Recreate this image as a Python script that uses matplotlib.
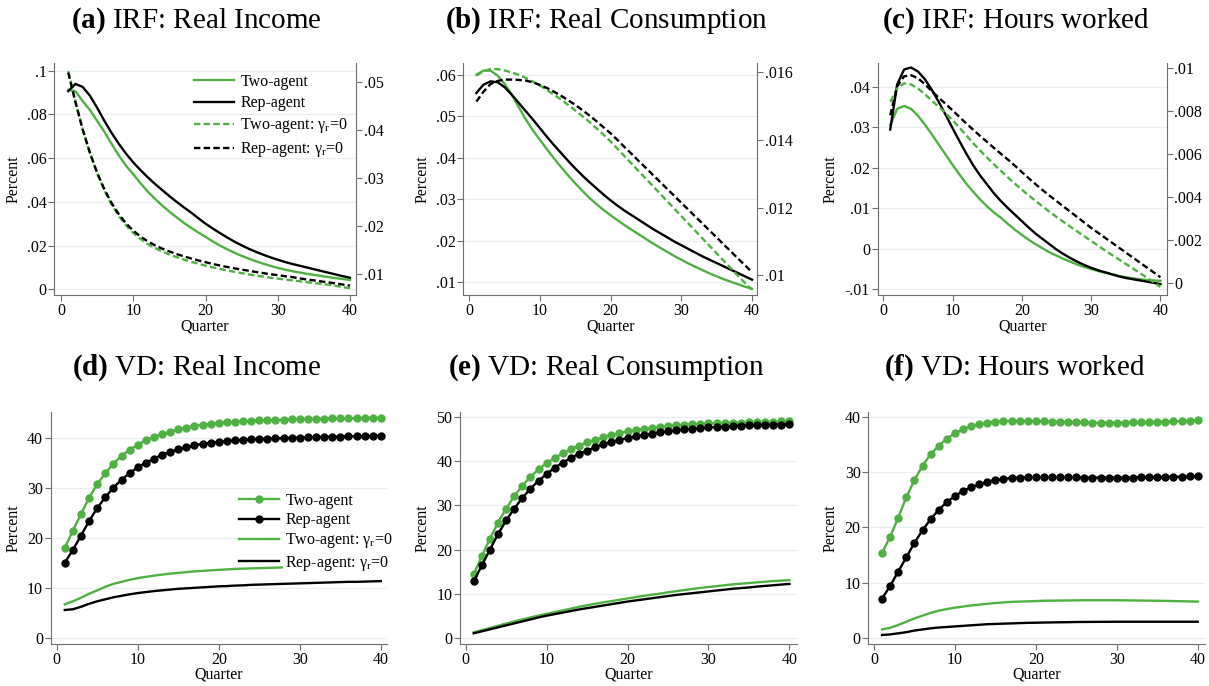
import matplotlib
matplotlib.use("Agg")
import matplotlib.pyplot as plt
from matplotlib.lines import Line2D

plt.rcParams["font.family"] = ["Liberation Serif", "DejaVu Serif"]
plt.rcParams["mathtext.fontset"] = "custom"
plt.rcParams["mathtext.rm"] = "Liberation Serif"
plt.rcParams["mathtext.it"] = "Liberation Serif:italic"
plt.rcParams["mathtext.bf"] = "Liberation Serif:bold"

GREEN = "#50b043"
SPINE = "#6e6e6e"
GRID = "#e8eff0"
DASH = (0, (2.7, 1.4))

quarters = list(range(1, 41))
labels = ["Two-agent", "Rep-agent", "Two-agent: γ$_\\mathrm{r}$=0", "Rep-agent: γ$_\\mathrm{r}$=0"]

# (a) IRF real income: solid on left axis, gamma_r=0 (dashed) on right axis
a_two = [.0912, .0905, .0860, .0820, .0770, .0720, .0665, .0612, .0565, .0526, .0485, .0447, .0414, .0383,
         .0355, .0329, .0304, .0281, .0260, .0240, .0219, .0200, .0183, .0167, .0153, .0140, .0128, .0117,
         .0107, .0098, .0090, .0083, .0077, .0071, .0066, .0061, .0056, .0051, .0047, .0043]
a_rep = [.0906, .0939, .0925, .0885, .0830, .0770, .0715, .0665, .0620, .0580, .0545, .0512, .0482, .0454,
         .0426, .0400, .0375, .0351, .0325, .0300, .0278, .0257, .0237, .0218, .0201, .0185, .0171, .0158,
         .0146, .0135, .0125, .0116, .0108, .0100, .0092, .0084, .0076, .0068, .0060, .0053]
a_two0 = [.05224, .04591, .04008, .03516, .03097, .02742, .02450, .02209, .02013, .01858, .01731, .01626,
          .01544, .01471, .01407, .01353, .01302, .01257, .01216, .01175, .01139, .01107, .01075, .01047,
          .01020, .00993, .00970, .00947, .00924, .00906, .00888, .00870, .00852, .00833, .00815, .00797,
          .00779, .00756, .00729, .00706]
a_rep0 = [.05192, .04578, .04008, .03525, .03111, .02765, .02478, .02245, .02054, .01904, .01781, .01681,
          .01599, .01530, .01471, .01416, .01371, .01325, .01284, .01248, .01211, .01179, .01148, .01120,
          .01093, .01070, .01043, .01020, .00997, .00979, .00956, .00938, .00911, .00888, .00870, .00847,
          .00829, .00806, .00783, .00760]

# (b) IRF real consumption
b_two = [.0600, .0610, .0610, .0598, .0578, .0552, .0522, .0492, .0466, .0443, .0420, .0398, .0377, .0357,
         .0338, .0320, .0303, .0288, .0274, .0261, .0249, .0237, .0226, .0215, .0204, .0193, .0183, .0173,
         .0163, .0154, .0145, .0137, .0129, .0121, .0114, .0107, .0101, .0095, .0089, .0084]
b_rep = [.0556, .0576, .0584, .0582, .0570, .0552, .0532, .0512, .0492, .0471, .0450, .0430, .0411, .0392,
         .0374, .0357, .0341, .0326, .0311, .0297, .0284, .0272, .0261, .0250, .0239, .0228, .0218, .0208,
         .0198, .0189, .0180, .0171, .0162, .0154, .0146, .0138, .0130, .0122, .0114, .0106]
b_two0 = [.01590, .01603, .01609, .01609, .01605, .01599, .01592, .01583, .01572, .01560, .01547, .01533,
          .01519, .01503, .01487, .01470, .01453, .01434, .01415, .01395, .01373, .01351, .01329, .01307,
          .01285, .01263, .01241, .01219, .01197, .01175, .01153, .01131, .01109, .01087, .01065, .01043,
          .01021, .00999, .00978, .00958]
b_rep0 = [.01513, .01542, .01565, .01574, .01578, .01578, .01577, .01575, .01570, .01562, .01553, .01542,
          .01530, .01517, .01503, .01488, .01472, .01455, .01437, .01419, .01399, .01378, .01358, .01337,
          .01317, .01296, .01276, .01255, .01235, .01214, .01194, .01173, .01153, .01132, .01112, .01091,
          .01071, .01050, .01030, .01009]

# (c) IRF hours worked
c_two = [.0305, .0345, .0352, .0345, .0328, .0306, .0282, .0257, .0232, .0207, .0183, .0160, .0140, .0121,
         .0104, .0089, .0076, .0061, .0047, .0034, .0022, .0011, .0001, -.0009, -.0017, -.0025, -.0032,
         -.0039, -.0045, -.0050, -.0055, -.0059, -.0063, -.0067, -.0070, -.0073, -.0075, -.0077, -.0078, -.0079]
c_rep = [.0294, .0405, .0442, .0447, .0437, .0418, .0392, .0362, .0330, .0297, .0265, .0234, .0205, .0180,
         .0158, .0136, .0117, .0100, .0084, .0068, .0052, .0037, .0024, .0011, -.0002, -.0013, -.0023,
         -.0032, -.0040, -.0047, -.0053, -.0058, -.0063, -.0068, -.0072, -.0075, -.0078, -.0081, -.0084, -.0087]
c_two0 = [.00843, .00905, .00929, .00924, .00905, .00878, .00848, .00820, .00790, .00757, .00722, .00686,
          .00649, .00615, .00582, .00550, .00520, .00490, .00461, .00433, .00406, .00380, .00355, .00330,
          .00306, .00283, .00260, .00238, .00216, .00194, .00172, .00150, .00129, .00108, .00087, .00066,
          .00045, .00024, .00002, -.00020]
c_rep0 = [.00780, .00915, .00962, .00967, .00953, .00925, .00893, .00862, .00833, .00803, .00772, .00741,
          .00712, .00683, .00655, .00627, .00600, .00573, .00545, .00515, .00486, .00458, .00431, .00405,
          .00380, .00355, .00330, .00305, .00280, .00255, .00232, .00209, .00186, .00163, .00140, .00117,
          .00094, .00071, .00048, .00025]

# (d) VD real income
d_two = [18.06, 21.5, 24.8, 28.1, 30.8, 33.0, 34.9, 36.5, 37.7, 38.7, 39.6, 40.3, 40.8, 41.3, 41.8, 42.1,
         42.5, 42.7, 42.9, 43.1, 43.2, 43.3, 43.4, 43.5, 43.6, 43.65, 43.7, 43.75, 43.8, 43.85, 43.9, 43.9,
         43.95, 44.0, 44.0, 44.0, 44.05, 44.1, 44.1, 44.1]
d_rep = [15.05, 17.6, 20.5, 23.4, 26.0, 28.2, 30.1, 31.7, 33.0, 34.2, 35.1, 35.9, 36.7, 37.3, 37.8, 38.2,
         38.6, 38.9, 39.1, 39.3, 39.45, 39.6, 39.7, 39.8, 39.9, 39.95, 40.0, 40.05, 40.1, 40.15, 40.2, 40.25,
         40.3, 40.3, 40.35, 40.4, 40.4, 40.45, 40.45, 40.5]
d_two0 = [6.7, 7.3, 8.0, 8.8, 9.5, 10.2, 10.8, 11.2, 11.6, 11.95, 12.2, 12.45, 12.65, 12.85, 13.0, 13.15,
          13.3, 13.4, 13.5, 13.6, 13.7, 13.8, 13.85, 13.9, 13.95, 14.0, 14.05, 14.1, 14.15, 14.2, 14.25, 14.3,
          14.35, 14.4, 14.4, 14.45, 14.5, 14.5, 14.55, 14.6]
d_rep0 = [5.55, 5.7, 6.2, 6.8, 7.3, 7.7, 8.1, 8.4, 8.7, 8.95, 9.15, 9.35, 9.5, 9.65, 9.8, 9.9, 10.0, 10.1,
          10.2, 10.3, 10.35, 10.45, 10.5, 10.6, 10.65, 10.7, 10.75, 10.8, 10.85, 10.9, 10.95, 11.0, 11.05,
          11.1, 11.15, 11.2, 11.2, 11.25, 11.3, 11.35]

# (e) VD real consumption
e_two = [14.4, 18.5, 22.5, 26.1, 29.3, 32.1, 34.5, 36.5, 38.2, 39.6, 40.8, 41.8, 42.8, 43.6, 44.3, 44.9,
         45.5, 46.0, 46.4, 46.8, 47.1, 47.35, 47.6, 47.8, 48.0, 48.15, 48.3, 48.4, 48.5, 48.6, 48.65, 48.7,
         48.75, 48.8, 48.85, 48.9, 48.95, 49.0, 49.05, 49.1]
e_rep = [12.8, 16.4, 20.0, 23.5, 26.6, 29.3, 31.7, 33.8, 35.6, 37.1, 38.6, 39.7, 40.8, 41.7, 42.4, 43.2,
         43.9, 44.4, 44.9, 45.3, 45.7, 46.0, 46.3, 46.6, 46.85, 47.05, 47.25, 47.4, 47.55, 47.7, 47.8, 47.9,
         48.0, 48.1, 48.15, 48.2, 48.25, 48.3, 48.35, 48.4]
e_two0 = [1.2, 1.7, 2.2, 2.7, 3.2, 3.7, 4.15, 4.6, 5.0, 5.4, 5.8, 6.2, 6.6, 7.0, 7.35, 7.7, 8.0, 8.3, 8.6,
          8.9, 9.2, 9.5, 9.75, 10.0, 10.3, 10.55, 10.8, 11.05, 11.3, 11.5, 11.7, 11.9, 12.1, 12.25, 12.4,
          12.55, 12.7, 12.85, 12.95, 13.05]
e_rep0 = [1.0, 1.45, 1.9, 2.35, 2.8, 3.25, 3.7, 4.15, 4.6, 5.0, 5.35, 5.7, 6.05, 6.4, 6.7, 7.0, 7.3, 7.6,
          7.9, 8.2, 8.45, 8.7, 8.95, 9.2, 9.45, 9.7, 9.9, 10.1, 10.3, 10.5, 10.7, 10.9, 11.1, 11.25, 11.4,
          11.6, 11.75, 11.9, 12.05, 12.2]

# (f) VD hours worked
f_two = [15.4, 18.3, 21.8, 25.5, 28.6, 31.2, 33.3, 34.8, 36.1, 37.1, 37.8, 38.4, 38.7, 39.0, 39.2, 39.3,
         39.35, 39.35, 39.3, 39.3, 39.25, 39.2, 39.15, 39.1, 39.1, 39.05, 39.0, 39.0, 39.0, 39.0, 39.0, 39.05,
         39.05, 39.1, 39.15, 39.2, 39.25, 39.3, 39.4, 39.5]
f_rep = [7.1, 9.4, 12.0, 14.6, 17.2, 19.5, 21.5, 23.2, 24.6, 25.7, 26.6, 27.3, 27.8, 28.3, 28.6, 28.8,
         29.0, 29.05, 29.1, 29.1, 29.1, 29.1, 29.1, 29.1, 29.1, 29.05, 29.05, 29.05, 29.05, 29.05, 29.05,
         29.05, 29.1, 29.1, 29.1, 29.15, 29.2, 29.2, 29.25, 29.3]
f_two0 = [1.5, 1.8, 2.3, 2.9, 3.5, 4.0, 4.5, 4.9, 5.2, 5.45, 5.65, 5.85, 6.0, 6.15, 6.3, 6.4, 6.5, 6.55,
          6.6, 6.65, 6.7, 6.72, 6.74, 6.76, 6.78, 6.8, 6.8, 6.8, 6.8, 6.8, 6.78, 6.76, 6.74, 6.72, 6.7, 6.68,
          6.65, 6.62, 6.58, 6.55]
f_rep0 = [0.5, 0.6, 0.8, 1.0, 1.3, 1.5, 1.7, 1.85, 1.95, 2.05, 2.15, 2.25, 2.35, 2.45, 2.5, 2.55, 2.6,
          2.65, 2.7, 2.72, 2.75, 2.78, 2.8, 2.82, 2.85, 2.86, 2.87, 2.88, 2.89, 2.9, 2.9, 2.9, 2.9, 2.9, 2.9,
          2.9, 2.9, 2.9, 2.9, 2.9]

x_ticks = [0, 10, 20, 30, 40]
a_left_ticks = [0, .02, .04, .06, .08, .1]
a_left_labels = ["0", ".02", ".04", ".06", ".08", ".1"]
a_right_ticks = [.01, .02, .03, .04, .05]
a_right_labels = [".01", ".02", ".03", ".04", ".05"]
b_left_ticks = [.01, .02, .03, .04, .05, .06]
b_left_labels = [".01", ".02", ".03", ".04", ".05", ".06"]
b_right_ticks = [.01, .012, .014, .016]
b_right_labels = [".01", ".012", ".014", ".016"]
c_left_ticks = [-.01, 0, .01, .02, .03, .04]
c_left_labels = ["-.01", "0", ".01", ".02", ".03", ".04"]
c_right_ticks = [0, .002, .004, .006, .008, .01]
c_right_labels = ["0", ".002", ".004", ".006", ".008", ".01"]
d_ticks = [0, 10, 20, 30, 40]
e_ticks = [0, 10, 20, 30, 40, 50]
f_ticks = [0, 10, 20, 30, 40]

W, H = 1209, 686
fig = plt.figure(figsize=(W / 100, H / 100), dpi=100)


def make_axes(L, R, T, B):
    return fig.add_axes([L / W, 1 - B / H, (R - L) / W, (B - T) / H])


def style(ax, xlim, ylim, yticks, ylabels, ylab_x, xlab_y):
    ax.set_xlim(*xlim)
    ax.set_ylim(*ylim)
    ax.set_xticks(x_ticks)
    ax.set_yticks(yticks)
    ax.set_yticklabels(ylabels)
    ax.yaxis.grid(True, color=GRID, lw=0.9)
    ax.set_axisbelow(True)
    for s in ["top", "right"]:
        ax.spines[s].set_visible(False)
    for s in ["left", "bottom"]:
        ax.spines[s].set_color(SPINE)
    ax.tick_params(direction="out", length=4, width=0.8, color=SPINE, labelsize=11.5, pad=1.5)
    ax.set_xlabel("Quarter", fontsize=11.5)
    ax.set_ylabel("Percent", fontsize=11.5)
    ax.yaxis.set_label_coords(ylab_x, 0.5)
    ax.xaxis.set_label_coords(0.5, xlab_y)


def irf(rect, xlim, ylim_l, ylim_r, two, rep, two0, rep0, lt, ll, rt, rl, ylab_x, legend=False):
    ax = make_axes(*rect)
    style(ax, xlim, ylim_l, lt, ll, ylab_x, -0.10)
    ax.plot(quarters, two, color=GREEN, lw=1.7)
    ax.plot(quarters, rep, color="black", lw=1.7)
    ax2 = ax.twinx()
    ax2.set_ylim(*ylim_r)
    ax2.set_yticks(rt)
    ax2.set_yticklabels(rl)
    for s in ["top", "left", "bottom"]:
        ax2.spines[s].set_visible(False)
    ax2.spines["right"].set_color(SPINE)
    ax2.tick_params(direction="out", length=4, width=0.8, color=SPINE, labelsize=11.5, pad=1.5)
    ax2.plot(quarters, two0, color=GREEN, lw=1.7, ls=DASH)
    ax2.plot(quarters, rep0, color="black", lw=1.7, ls=DASH)
    if legend:
        handles = [Line2D([], [], color=GREEN, lw=1.7), Line2D([], [], color="black", lw=1.7),
                   Line2D([], [], color=GREEN, lw=1.7, ls=DASH), Line2D([], [], color="black", lw=1.7, ls=DASH)]
        L, R, T, B = rect
        ax2.legend(handles, labels, loc="upper left",
                   bbox_to_anchor=((194 - L) / (R - L), (B - 74) / (B - T)),
                   frameon=False, borderpad=0, borderaxespad=0, handlelength=2.5,
                   handletextpad=0.4, labelspacing=0.32, fontsize=11.5)
    return ax


def vd(rect, xlim, ylim, yt, two, rep, two0, rep0, ylab_x, legend=False):
    ax = make_axes(*rect)
    style(ax, xlim, ylim, yt, [str(t) for t in yt], ylab_x, -0.098)
    ax.plot(quarters, two, color=GREEN, lw=1.7, marker="o", ms=5)
    ax.plot(quarters, rep, color="black", lw=1.7, marker="o", ms=5)
    ax.plot(quarters, two0, color=GREEN, lw=1.7)
    ax.plot(quarters, rep0, color="black", lw=1.7)
    if legend:
        handles = [Line2D([], [], color=GREEN, lw=1.7, marker="o", ms=5),
                   Line2D([], [], color="black", lw=1.7, marker="o", ms=5),
                   Line2D([], [], color=GREEN, lw=1.7), Line2D([], [], color="black", lw=1.7)]
        L, R, T, B = rect
        leg = ax.legend(handles, labels, loc="upper left", numpoints=1,
                        bbox_to_anchor=((239 - L) / (R - L), (B - 493) / (B - T)),
                        frameon=False, borderpad=0, borderaxespad=0, handlelength=2.5,
                        handletextpad=0.4, labelspacing=0.2, fontsize=11.5)
        for t in leg.get_texts():
            t.set_bbox(dict(facecolor="white", edgecolor="none", pad=2))
    return ax


irf((54.3, 356, 63, 295), (-0.93, 40.83), (-0.0026, 0.10345), (0.00565, 0.05393),
    a_two, a_rep, a_two0, a_rep0, a_left_ticks, a_left_labels, a_right_ticks, a_right_labels, -0.11, legend=True)
irf((463.3, 757.3, 63, 295), (-0.85, 40.75), (0.0069, 0.06283), (0.00942, 0.01627),
    b_two, b_rep, b_two0, b_rep0, b_left_ticks, b_left_labels, b_right_ticks, b_right_labels, -0.11)
irf((877.7, 1166.7, 63, 295), (-0.81, 40.9), (-0.0114, 0.0458), (-0.00058, 0.01024),
    c_two, c_rep, c_two0, c_rep0, c_left_ticks, c_left_labels, c_right_ticks, c_right_labels, -0.134)

vd((50.7, 387.3, 411.7, 644), (-0.74, 40.8), (-1.27, 45.34), d_ticks, d_two, d_rep, d_two0, d_rep0, -0.085,
   legend=True)
vd((460, 796.7, 411.7, 644), (-0.7, 40.9), (-1.43, 51.27), e_ticks, e_two, e_rep, e_two0, e_rep0, -0.086)
vd((868.3, 1205, 411.7, 644), (-0.7, 40.9), (-1.14, 41.0), f_ticks, f_two, f_rep, f_two0, f_rep0, -0.087)

titles = [("a", "IRF: Real Income", 196.5, 28), ("b", "IRF: Real Consumption", 606.5, 28),
          ("c", "IRF: Hours worked", 1015.5, 28), ("d", "VD: Real Income", 197, 375),
          ("e", "VD: Real Consumption", 606, 375), ("f", "VD: Hours worked", 1015, 375)]
for letter, name, x, y in titles:
    fig.text(x / W, 1 - y / H, "$\\mathbf{(" + letter + ")}$ " + name, ha="center", va="baseline", fontsize=21)

fig.savefig("out.png", dpi=100, facecolor="white")
